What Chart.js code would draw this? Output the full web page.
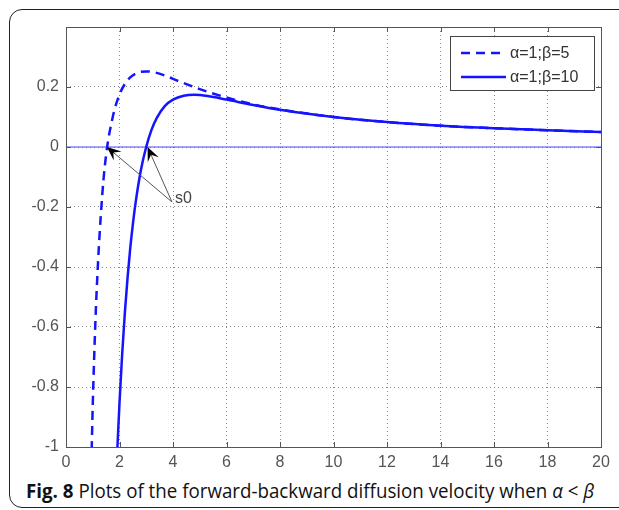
<!DOCTYPE html>
<html>
<head>
<meta charset="utf-8">
<script src="https://cdn.jsdelivr.net/npm/chart.js@4.4.0/dist/chart.umd.min.js"></script>
<style>
  body { margin: 0; background: #fff; width: 619px; height: 510px; overflow: hidden; position: relative; }
  #frame { position: absolute; left: 9px; top: 9px; width: 640px; height: 497px; border: 1.5px solid #222; border-radius: 13px; }
  #c { position: absolute; left: 0; top: 0; }
  #caption { position: absolute; left: 26px; top: 477px; font-family: "Open Sans", sans-serif; font-size: 20px; color: #111; white-space: nowrap; transform: scaleX(0.937); transform-origin: 0 0; }
  #caption b { font-weight: 700; }
</style>
</head>
<body>
<div id="frame"></div>
<canvas id="c" width="619" height="470"></canvas>
<div id="caption"><b>Fig. 8</b> Plots of the forward-backward diffusion velocity when <i>α</i> &lt; <i>β</i></div>
<script>
var xs5  = [0.96, 1.0, 1.1, 1.2, 1.3, 1.4, 1.5, 1.6, 1.7, 1.8, 2.0, 2.2, 2.4, 2.7, 3.0, 3.3, 3.7, 4.2, 5, 6, 7, 8, 10, 12, 14, 16, 18, 20];
var ys5  = [-1.01, -0.86, -0.58, -0.38, -0.23, -0.11, -0.025, 0.035, 0.08, 0.12, 0.175, 0.21, 0.232, 0.248, 0.252, 0.249, 0.238, 0.220, 0.193, 0.165, 0.142, 0.125, 0.100, 0.083, 0.071, 0.0625, 0.056, 0.050];
var xs10 = [1.92, 2.0, 2.1, 2.2, 2.3, 2.4, 2.5, 2.6, 2.8, 3.0, 3.2, 3.4, 3.7, 4.0, 4.4, 4.8, 5.3, 6, 7, 8, 10, 12, 14, 16, 18, 20];
var ys10 = [-1.005, -0.853, -0.690, -0.553, -0.437, -0.339, -0.257, -0.187, -0.077, 0.001, 0.058, 0.098, 0.137, 0.158, 0.171, 0.174, 0.170, 0.158, 0.140, 0.124, 0.100, 0.083, 0.071, 0.0625, 0.056, 0.050];
var zeroX = [0, 20];
var zeroY = [0, 0];
var labels = ["\u03b1=1;\u03b2=5", "\u03b1=1;\u03b2=10"];
var xTicks = [0, 2, 4, 6, 8, 10, 12, 14, 16, 18, 20];
var yTicks = [-1, -0.8, -0.6, -0.4, -0.2, 0, 0.2];
var s0Label = "s0";
var s0From = { x: 3.96, y: -0.183 };
var s0To = [{ x: 1.53, y: 0 }, { x: 3.05, y: 0 }];

function pts(xs, ys) {
  return xs.map(function (x, i) { return { x: x, y: ys[i] }; });
}

var BLUE = "#1414ff";
var tickFont = { family: "'Liberation Sans', Arial, sans-serif", size: 16 };

function arrowHead(ctx, x0, y0, x1, y1) {
  var a = Math.atan2(y1 - y0, x1 - x0);
  var len = 14, w = 6;
  ctx.save();
  ctx.translate(x1, y1);
  ctx.rotate(a);
  ctx.beginPath();
  ctx.moveTo(0, 0);
  ctx.lineTo(-len, -w);
  ctx.lineTo(-len * 0.6, 0);
  ctx.lineTo(-len, w);
  ctx.closePath();
  ctx.fillStyle = "#000";
  ctx.fill();
  ctx.restore();
}

var extras = {
  id: "extras",
  afterDraw: function (chart) {
    var ctx = chart.ctx, a = chart.chartArea, x = chart.scales.x, y = chart.scales.y;
    ctx.save();
    // axes box
    ctx.strokeStyle = "#555";
    ctx.lineWidth = 1;
    ctx.strokeRect(a.left + 0.5, a.top + 0.5, a.right - a.left, a.bottom - a.top);
    // inward tick marks
    ctx.beginPath();
    xTicks.forEach(function (v) {
      var px = Math.round(x.getPixelForValue(v)) + 0.5;
      ctx.moveTo(px, a.bottom); ctx.lineTo(px, a.bottom - 5);
      ctx.moveTo(px, a.top); ctx.lineTo(px, a.top + 5);
    });
    yTicks.forEach(function (v) {
      var py = Math.round(y.getPixelForValue(v)) + 0.5;
      ctx.moveTo(a.left, py); ctx.lineTo(a.left + 5, py);
      ctx.moveTo(a.right, py); ctx.lineTo(a.right - 5, py);
    });
    ctx.stroke();

    // s0 annotation
    var fx = x.getPixelForValue(s0From.x), fy = y.getPixelForValue(s0From.y);
    ctx.strokeStyle = "#555";
    ctx.lineWidth = 1;
    s0To.forEach(function (t) {
      var tx = x.getPixelForValue(t.x), ty = y.getPixelForValue(t.y);
      ctx.beginPath();
      ctx.moveTo(fx, fy);
      ctx.lineTo(tx, ty);
      ctx.stroke();
      arrowHead(ctx, fx, fy, tx, ty);
    });
    ctx.fillStyle = "#444";
    ctx.font = "16px " + tickFont.family;
    ctx.textBaseline = "middle";
    ctx.textAlign = "left";
    ctx.fillText(s0Label, fx + 3, fy - 3);

    // legend box
    var lx = a.right - 151, ly = a.top + 9, lw = 144, lh = 54;
    ctx.fillStyle = "#fff";
    ctx.fillRect(lx, ly, lw, lh);
    ctx.strokeStyle = "#444";
    ctx.strokeRect(lx + 0.5, ly + 0.5, lw, lh);
    var rows = [ly + 17, ly + 41];
    chart.data.datasets.slice(0, 2).forEach(function (ds, i) {
      ctx.strokeStyle = ds.borderColor;
      ctx.lineWidth = ds.borderWidth;
      ctx.setLineDash(ds.borderDash || []);
      ctx.beginPath();
      ctx.moveTo(lx + 11, rows[i]);
      ctx.lineTo(lx + 56, rows[i]);
      ctx.stroke();
      ctx.setLineDash([]);
      ctx.fillStyle = "#333";
      ctx.fillText(ds.label, lx + 60, rows[i] + 1);
    });
    ctx.restore();
  }
};

new Chart(document.getElementById("c"), {
  type: "scatter",
  data: {
    datasets: [
      { label: labels[0], data: pts(xs5, ys5), showLine: true, borderColor: BLUE, borderWidth: 2.5, borderDash: [9, 6], pointRadius: 0, cubicInterpolationMode: "monotone" },
      { label: labels[1], data: pts(xs10, ys10), showLine: true, borderColor: BLUE, borderWidth: 2.5, pointRadius: 0, cubicInterpolationMode: "monotone" },
      { label: "zero", data: pts(zeroX, zeroY), showLine: true, borderColor: "#4a4aff", borderWidth: 1, pointRadius: 0 }
    ]
  },
  options: {
    responsive: false,
    animation: false,
    layout: { padding: { left: 0, right: 18, top: 27, bottom: 3 } },
    plugins: { legend: { display: false }, tooltip: { enabled: false } },
    scales: {
      x: {
        type: "linear", min: 0, max: 20,
        afterFit: function (s) { s.height = 20; },
        afterBuildTicks: function (s) { s.ticks = xTicks.map(function (v) { return { value: v }; }); },
        ticks: { color: "#555", font: tickFont, padding: 6, maxRotation: 0 },
        grid: { color: "#888", drawTicks: false, lineWidth: 1 },
        border: { display: false, dash: [1, 3] }
      },
      y: {
        type: "linear", min: -1, max: 0.4,
        afterFit: function (s) { s.width = 66; },
        afterBuildTicks: function (s) { s.ticks = yTicks.map(function (v) { return { value: v }; }); },
        ticks: { color: "#555", font: tickFont, padding: 7, callback: function (v) { return String(Math.round(v * 10) / 10); } },
        grid: { color: "#888", drawTicks: false, lineWidth: 1 },
        border: { display: false, dash: [1, 3] }
      }
    }
  },
  plugins: [extras]
});
</script>
</body>
</html>
